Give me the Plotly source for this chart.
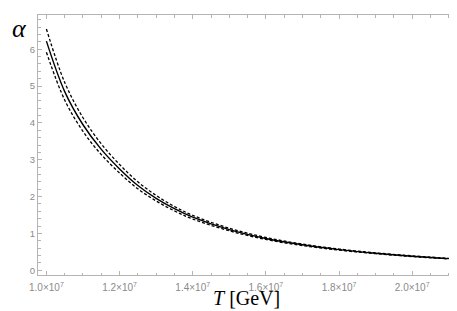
import plotly.graph_objects as go

# Temperature grid (GeV)
T = [1.00e7, 1.05e7, 1.10e7, 1.15e7, 1.20e7, 1.25e7, 1.30e7, 1.35e7, 1.40e7,
     1.50e7, 1.60e7, 1.70e7, 1.80e7, 1.90e7, 2.00e7, 2.10e7]

alpha_central = [6.22, 4.85, 3.95, 3.28, 2.75, 2.30, 1.95, 1.67, 1.44,
                 1.10, 0.86, 0.69, 0.56, 0.46, 0.38, 0.315]
alpha_upper = [6.55, 5.10, 4.14, 3.43, 2.87, 2.40, 2.03, 1.73, 1.49,
               1.14, 0.89, 0.71, 0.575, 0.472, 0.39, 0.322]
alpha_lower = [5.92, 4.62, 3.77, 3.14, 2.64, 2.21, 1.88, 1.61, 1.39,
               1.07, 0.835, 0.67, 0.545, 0.449, 0.371, 0.308]

x_tickvals = [1.0e7, 1.2e7, 1.4e7, 1.6e7, 1.8e7, 2.0e7]
x_ticktext = ["1.0×10<sup>7</sup>", "1.2×10<sup>7</sup>", "1.4×10<sup>7</sup>",
              "1.6×10<sup>7</sup>", "1.8×10<sup>7</sup>", "2.0×10<sup>7</sup>"]
y_tickvals = [0, 1, 2, 3, 4, 5, 6]

fig = go.Figure()
fig.add_trace(go.Scatter(x=T, y=alpha_upper, mode="lines", line_shape="spline",
                         line=dict(color="black", width=1.3, dash="3px,2px")))
fig.add_trace(go.Scatter(x=T, y=alpha_central, mode="lines", line_shape="spline",
                         line=dict(color="black", width=1.4)))
fig.add_trace(go.Scatter(x=T, y=alpha_lower, mode="lines", line_shape="spline",
                         line=dict(color="black", width=1.3, dash="3px,2px")))

frame = "#b4b4b4"
fig.update_layout(
    width=457, height=311,
    margin=dict(l=30, r=6, t=7, b=44),
    paper_bgcolor="white", plot_bgcolor="white",
    showlegend=False,
    xaxis=dict(range=[0.977e7, 2.128e7], tickvals=x_tickvals, ticktext=x_ticktext,
               showgrid=False, zeroline=False, showline=True, linecolor=frame, linewidth=1,
               mirror="ticks", ticks="inside", ticklen=4, tickcolor=frame,
               ticklabelstandoff=3,
               tickfont=dict(family="Liberation Sans", size=10, color="#8a8a8a"),
               minor=dict(dtick=0.05e7, tick0=1.0e7, ticks="inside", ticklen=2.5, tickcolor=frame)),
    yaxis=dict(range=[-0.13, 6.93], tickvals=y_tickvals,
               showgrid=False, zeroline=False, showline=True, linecolor=frame, linewidth=1,
               mirror="ticks", ticks="inside", ticklen=4, tickcolor=frame,
               tickfont=dict(family="Liberation Sans", size=9.5, color="#8a8a8a"),
               minor=dict(dtick=0.2, tick0=0, ticks="inside", ticklen=2.5, tickcolor=frame)),
    annotations=[
        dict(text="α", xref="paper", yref="paper", x=-0.066, y=0.95,
             xanchor="left", yanchor="middle", showarrow=False,
             font=dict(family="Liberation Serif", size=26, color="black", style="italic")),
        dict(text="<i>T</i> [GeV]", xref="paper", yref="paper", x=0.495, y=-0.088,
             xanchor="center", yanchor="middle", showarrow=False,
             font=dict(family="Liberation Serif", size=20, color="black")),
    ],
)

fig.write_html("out.html")
